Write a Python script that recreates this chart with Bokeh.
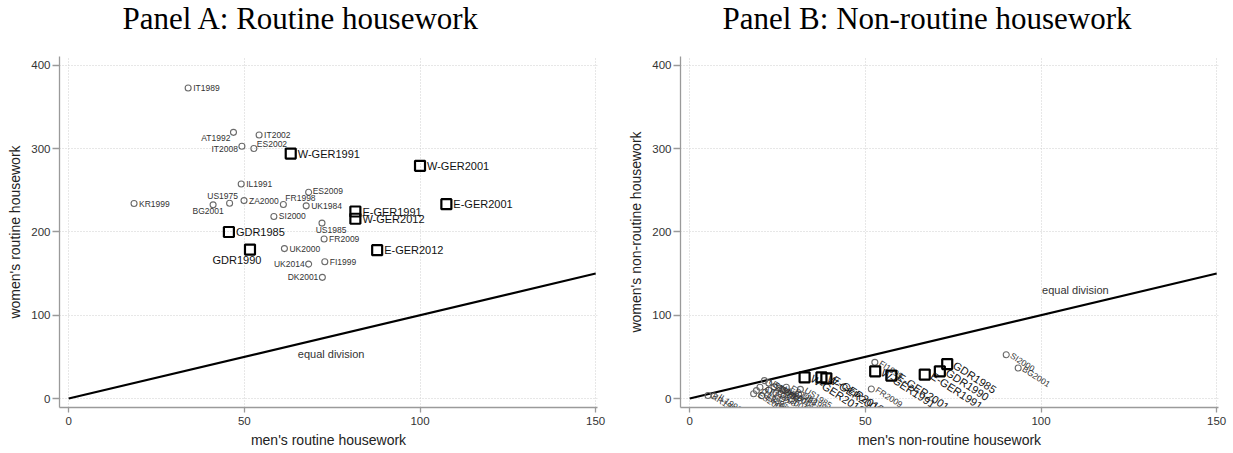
import math
from bokeh.plotting import figure
from bokeh.layouts import row
from bokeh.models import ColumnDataSource, Range1d, FixedTicker, Title
from bokeh.core.properties import value
from bokeh.embed import file_html
from bokeh.resources import INLINE

# ---------------- data ----------------
x_ticks = [0, 50, 100, 150]
y_ticks = [0, 100, 200, 300, 400]
equal_x = [0, 150]
equal_y = [0, 150]

# Panel A: routine housework, other countries (circles)
a_c_lab = ["IT1989", "AT1992", "IT2002", "IT2008", "ES2002", "IL1991", "ES2009", "US1975",
           "ZA2000", "FR1998", "KR1999", "BG2001", "UK1984", "SI2000", "US1985", "FR2009",
           "UK2000", "UK2014", "FI1999", "DK2001"]
a_c_men = [34.0, 46.9, 54.2, 49.3, 52.7, 49.1, 68.3, 45.8, 49.9, 61.1, 18.6, 41.1, 67.6, 58.4,
           72.1, 72.7, 61.4, 68.3, 72.9, 72.2]
a_c_wom = [372.6, 319.4, 316.2, 302.7, 300.0, 257.4, 247.5, 234.4, 237.5, 232.8, 234.0, 232.4,
           231.2, 218.5, 210.5, 191.5, 179.9, 161.3, 164.1, 145.4]
# Panel A: Germany (squares)
a_s_lab = ["W-GER1991", "W-GER2001", "E-GER2001", "E-GER1991", "W-GER2012", "GDR1985",
           "GDR1990", "E-GER2012"]
a_s_men = [63.2, 100.0, 107.5, 81.6, 81.6, 45.6, 51.6, 87.8]
a_s_wom = [293.9, 279.2, 233.2, 224.4, 215.7, 199.8, 178.7, 178.0]

# Panel B: non-routine housework, other countries (circles)
b_c_lab = ["SI2000", "BG2001", "FI1999", "FR2009", "KR1999", "IL1991", "US1975", "ZA2000",
           "AT1992", "IT1989", "ES2009", "ES2002", "IT2002", "IT2008", "UK2000", "UK2014",
           "DK2001", "FR1998", "US1985", "UK1984"]
b_c_men = [90.1, 93.5, 52.7, 51.7, 5.2, 7.0, 21.3, 22.5, 20.0, 19.0, 18.2, 20.5, 24.0, 22.5,
           25.5, 26.5, 24.5, 27.5, 31.5, 31.0]
b_c_wom = [52.5, 36.6, 43.4, 11.5, 3.6, 3.0, 21.5, 18.5, 13.5, 9.5, 5.8, 3.5, 14.0, 10.0,
           12.5, 10.0, 6.5, 13.5, 11.0, 5.0]
# Panel B: Germany (squares)
b_s_lab = ["GDR1985", "GDR1990", "E-GER1991", "W-GER1991", "E-GER2001", "W-GER2012",
           "W-GER2001", "E-GER2012"]
b_s_men = [73.3, 71.2, 66.9, 52.8, 57.4, 32.7, 37.5, 38.9]
b_s_wom = [41.4, 32.6, 28.7, 32.6, 27.5, 25.5, 25.5, 24.3]

# ---------------- style: label placement (screen px offsets: dx right, dy up, align) ----------------
A_POS = {
    "AT1992": (-3, -6, "right"), "IT2008": (-4, -3, "right"), "ES2002": (3, 4.6, "left"),
    "US1975": (-7, 6.7, "center"), "FR1998": (2, 6.3, "left"), "BG2001": (-5, -6.3, "center"),
    "US1985": (9, -6.7, "center"), "UK2014": (-4, 0, "right"), "DK2001": (-4, 0, "right"),
    "GDR1990": (-13, -10, "center"), "ES2009": (4, 1, "left"),
}

FONT = "Liberation Sans"
SERIF = "Liberation Serif"
CIRC_COL = "#6a6a6a"
TXT_COL = "#333333"


def make_fig(title, title_off, xlabel, ylabel, width, mbl, mbr):
    p = figure(width=width, height=453, output_backend="svg", toolbar_location=None,
               x_range=Range1d(-2.62, 150.52), y_range=Range1d(-10.75, 410.4),
               min_border_left=mbl, min_border_right=mbr, min_border_top=54,
               min_border_bottom=46, background_fill_color="white",
               border_fill_color="white", outline_line_color=None)
    # spacer between the heading and the plotting frame
    p.add_layout(Title(text=" ", text_font_size="10px", standoff=6), "above")
    p.title.text = title
    p.title.align = "left"
    p.title.offset = title_off
    p.title.vertical_align = "top"
    p.title.text_font = SERIF
    p.title.text_font_size = "31px"
    p.title.text_font_style = "normal"
    p.title.text_color = "black"
    p.title.standoff = 0
    p.xaxis.ticker = FixedTicker(ticks=x_ticks)
    p.yaxis.ticker = FixedTicker(ticks=y_ticks)
    for ax in (p.xaxis[0], p.yaxis[0]):
        ax.axis_line_color = "#9a9a9a"
        ax.axis_line_width = 1.3
        ax.major_tick_line_color = "#9a9a9a"
        ax.major_tick_line_width = 1.3
        ax.major_tick_in = 0
        ax.minor_tick_line_color = None
        ax.major_label_text_font = FONT
        ax.major_label_text_font_size = "11.5px"
        ax.major_label_text_color = TXT_COL
        ax.axis_label_text_font = FONT
        ax.axis_label_text_font_size = "14px"
        ax.axis_label_text_font_style = "normal"
        ax.axis_label_text_color = "#222222"
    p.xaxis.axis_label = xlabel
    p.yaxis.axis_label = ylabel
    p.xaxis.major_tick_out = 5
    p.yaxis.major_tick_out = 7
    p.xaxis.major_label_standoff = 4
    p.xaxis.axis_label_standoff = 4
    p.yaxis.major_label_standoff = 2
    p.yaxis.axis_label_standoff = 5
    p.yaxis.major_label_orientation = "horizontal"
    for g in (p.xgrid[0], p.ygrid[0]):
        g.grid_line_color = "#cfcfcf"
        g.grid_line_dash = "1 2"
        g.grid_line_width = 1
    p.line(equal_x, equal_y, line_color="black", line_width=2.2)
    return p


# ---------------- Panel A ----------------
pa = make_fig("Panel A: Routine housework", 63, "men's routine housework",
              "women's routine housework", 620, 59, 23)

dx, dy, al = [], [], []
for lab in a_c_lab:
    o = A_POS.get(lab, (5, 0, "left"))
    dx.append(o[0]); dy.append(-o[1]); al.append(o[2])
src_ac = ColumnDataSource(dict(x=a_c_men, y=a_c_wom, t=a_c_lab, dx=dx, dy=dy, al=al))
pa.scatter("x", "y", source=src_ac, marker="circle", size=6, fill_color=None,
           line_color=CIRC_COL, line_width=1.1)
pa.text("x", "y", text="t", source=src_ac, x_offset="dx", y_offset="dy", text_align="al",
        text_baseline="middle", text_font=value(FONT), text_font_size=value("8.5px"),
        text_color=TXT_COL)

dx, dy, al = [], [], []
for lab in a_s_lab:
    o = A_POS.get(lab, (7, 0, "left"))
    dx.append(o[0]); dy.append(-o[1]); al.append(o[2])
src_as = ColumnDataSource(dict(x=a_s_men, y=a_s_wom, t=a_s_lab, dx=dx, dy=dy, al=al))
pa.scatter("x", "y", source=src_as, marker="square", size=10, fill_color=None,
           line_color="black", line_width=2.2)
pa.text("x", "y", text="t", source=src_as, x_offset="dx", y_offset="dy", text_align="al",
        text_baseline="middle", text_font=value(FONT), text_font_size=value("11px"),
        text_color="#111111")

pa.text(x=[74.7], y=[54], text=["equal division"], text_align="center", text_baseline="middle",
        text_font=value(FONT), text_font_size=value("11px"), text_color=TXT_COL)

# ---------------- Panel B ----------------
pb = make_fig("Panel B: Non-routine housework", 42, "men's non-routine housework",
              "women's non-routine housework", 613, 60, 15)
ang = math.radians(-33)
src_bc = ColumnDataSource(dict(x=b_c_men, y=b_c_wom, t=b_c_lab))
pb.scatter("x", "y", source=src_bc, marker="circle", size=6, fill_color=None,
           line_color=CIRC_COL, line_width=1.1)
pb.text("x", "y", text="t", source=src_bc, x_offset=5, y_offset=0, angle=ang,
        text_align="left", text_baseline="middle", text_font=value(FONT),
        text_font_size=value("8.5px"), text_color=TXT_COL)
src_bs = ColumnDataSource(dict(x=b_s_men, y=b_s_wom, t=b_s_lab))
pb.scatter("x", "y", source=src_bs, marker="square", size=10, fill_color=None,
           line_color="black", line_width=2.2)
pb.text("x", "y", text="t", source=src_bs, x_offset=7, y_offset=0, angle=ang,
        text_align="left", text_baseline="middle", text_font=value(FONT),
        text_font_size=value("11px"), text_color="#111111")
pb.text(x=[100.3], y=[130], text=["equal division"], text_align="left", text_baseline="middle",
        text_font=value(FONT), text_font_size=value("11px"), text_color=TXT_COL)

layout = row(pa, pb)
open("out.html", "w").write(file_html(layout, INLINE))
